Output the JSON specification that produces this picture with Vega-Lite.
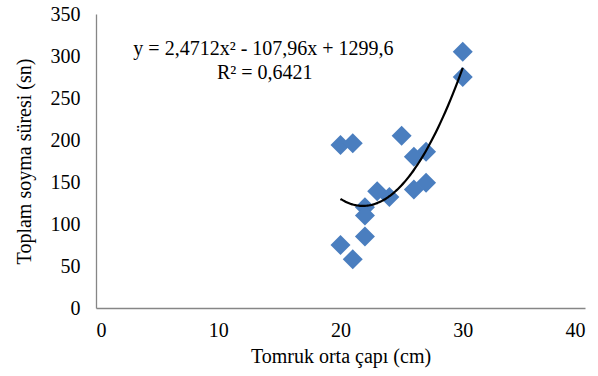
{
  "$schema": "https://vega.github.io/schema/vega-lite/v6.json",
  "width": 489,
  "height": 294,
  "autosize": {"type": "none"},
  "padding": {"left": 96, "top": 14, "right": 13, "bottom": 68},
  "background": "white",
  "config": {
    "view": {"stroke": null},
    "font": "Liberation Serif",
    "axis": {"grid": false, "ticks": false, "domainColor": "#868686", "domainWidth": 1.3, "labelFont": "Liberation Serif", "titleFont": "Liberation Serif", "labelFontSize": 20, "titleFontSize": 20, "labelColor": "#000000", "titleColor": "#000000", "titleFontWeight": "normal"}
  },
  "datasets": {
    "pts": [
      {"d": 20, "t": 194}, {"d": 21, "t": 196}, {"d": 25, "t": 205}, {"d": 26, "t": 180},
      {"d": 27, "t": 186}, {"d": 30, "t": 305}, {"d": 30, "t": 275}, {"d": 23, "t": 139},
      {"d": 24, "t": 132}, {"d": 22, "t": 120}, {"d": 22, "t": 110}, {"d": 26, "t": 141},
      {"d": 27, "t": 149}, {"d": 22, "t": 85}, {"d": 20, "t": 75}, {"d": 21, "t": 58}
    ],
    "labels": [
      {"d": 13.7, "t": 308, "label": "y = 2,4712x² - 107,96x + 1299,6"},
      {"d": 13.8, "t": 280, "label": "R² = 0,6421"}
    ]
  },
  "layer": [
    {
      "data": {"name": "pts"},
      "mark": {"type": "point", "shape": "diamond", "filled": true, "size": 400, "color": "#4A7EBF", "opacity": 1},
      "encoding": {
        "x": {"field": "d", "type": "quantitative", "scale": {"domain": [0, 40], "nice": false}, "axis": {"values": [0, 10, 20, 30, 40], "title": "Tomruk orta çapı (cm)", "labelPadding": 12, "titlePadding": 6}},
        "y": {"field": "t", "type": "quantitative", "scale": {"domain": [0, 350], "nice": false}, "axis": {"values": [0, 50, 100, 150, 200, 250, 300, 350], "title": "Toplam soyma süresi (sn)", "labelPadding": 16, "titlePadding": 16}}
      }
    },
    {
      "data": {"name": "pts"},
      "transform": [{"regression": "t", "on": "d", "method": "poly", "order": 2, "extent": [20, 30]}],
      "mark": {"type": "line", "color": "#000000", "strokeWidth": 2.2, "interpolate": "monotone"},
      "encoding": {
        "x": {"field": "d", "type": "quantitative"},
        "y": {"field": "t", "type": "quantitative"}
      }
    },
    {
      "data": {"name": "labels"},
      "mark": {"type": "text", "fontSize": 20, "font": "Liberation Serif", "color": "#000000", "align": "center", "baseline": "middle"},
      "encoding": {
        "x": {"field": "d", "type": "quantitative"},
        "y": {"field": "t", "type": "quantitative"},
        "text": {"field": "label"}
      }
    }
  ]
}
